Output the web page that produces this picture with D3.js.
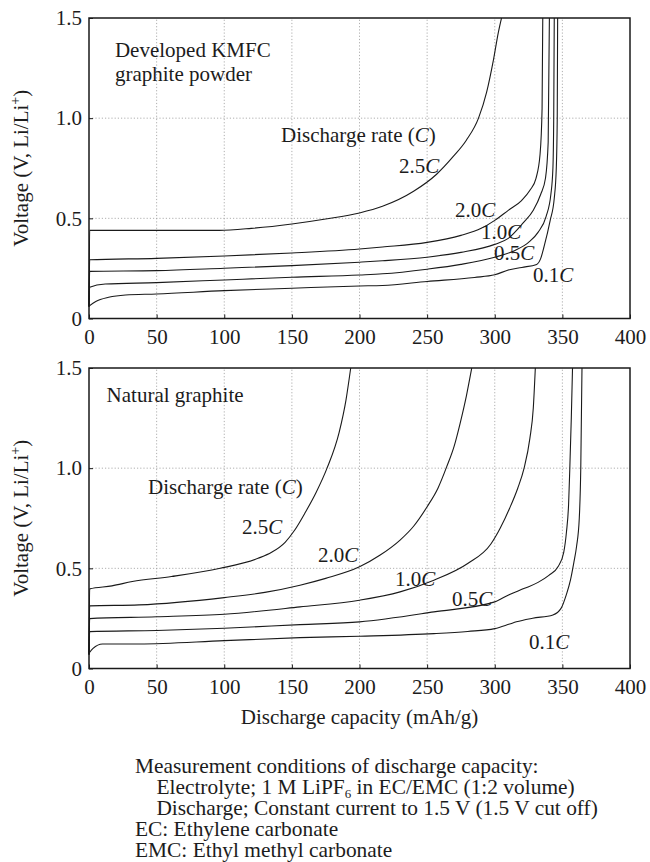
<!DOCTYPE html>
<html>
<head>
<meta charset="utf-8">
<title>Discharge curves</title>
<script src="https://d3js.org/d3.v7.min.js"></script>
<style>
    body { margin: 0; background: #fff; }
    text { font-family: "Liberation Serif", "Times New Roman", serif; fill: #1c1c1c; }
    .grid line { stroke: #9a9a9a; stroke-width: 0.8; stroke-dasharray: 1.2, 2; }
    .curve { fill: none; stroke: #1a1a1a; stroke-width: 1.1; }
    .frame { fill: none; stroke: #1a1a1a; stroke-width: 1.5; }
    .axis line { stroke: #1a1a1a; }
</style>
</head>
<body>
<script>
    // ---- data (capacity mAh/g, voltage V) ----
    var rates = ['2.5', '2.0', '1.0', '0.5', '0.1'];
    var xTicks = [0, 50, 100, 150, 200, 250, 300, 350, 400];
    var yTicks = [0, 0.5, 1.0, 1.5];
    var xGrid = [50, 100, 150, 200, 250, 300, 350];
    var yGrid = [0.5, 1.0];

    // Developed KMFC graphite powder
    var kmfc_25 = [[0,0.06],[0.5,0.44],[50,0.44],[96,0.44],[120,0.45],[150,0.472],[175,0.497],[200,0.527],[217,0.56],[240,0.635],[257,0.72],[269.5,0.81],[279,0.89],[288,1.0],[294,1.13],[299,1.29],[302.7,1.43],[305,1.5]];
    var kmfc_20 = [[0,0.06],[0.5,0.293],[50,0.30],[100,0.312],[150,0.327],[200,0.347],[217,0.357],[250,0.38],[275,0.415],[290,0.45],[300,0.49],[310,0.54],[320,0.59],[326,0.64],[330.5,0.70],[333.5,0.82],[335,1.05],[335.5,1.5]];
    var kmfc_10 = [[0,0.06],[0.5,0.235],[50,0.239],[100,0.251],[150,0.264],[200,0.281],[217,0.288],[250,0.306],[275,0.33],[300,0.37],[310,0.40],[321,0.477],[328.5,0.54],[334,0.62],[337.5,0.70],[339.5,0.88],[340.4,1.5]];
    var kmfc_05 = [[0,0.06],[0.5,0.156],[12,0.172],[50,0.179],[100,0.1925],[150,0.206],[200,0.2175],[217,0.223],[250,0.246],[275,0.27],[300,0.306],[315,0.34],[325,0.38],[332,0.43],[338,0.51],[341.5,0.62],[343,0.75],[343.6,1.0],[344,1.5]];
    var kmfc_01 = [[0,0.062],[5,0.085],[14.5,0.106],[27,0.1175],[50,0.1225],[100,0.139],[150,0.151],[200,0.1625],[217,0.165],[250,0.185],[285,0.205],[300,0.218],[310,0.242],[320,0.255],[331,0.27],[334,0.30],[336.5,0.36],[341,0.49],[344,0.60],[345.5,0.75],[346.2,1.0],[346.5,1.5]];

    // Natural graphite
    var nat_25 = [[0,0.07],[0.5,0.3975],[17,0.4125],[32,0.434],[61,0.459],[97,0.50],[125,0.55],[135,0.58],[145,0.63],[152,0.69],[160,0.78],[168,0.88],[176,1.0],[185,1.18],[190,1.34],[193.5,1.5]];
    var nat_20 = [[0,0.07],[0.5,0.3125],[37,0.3175],[100,0.354],[130,0.38],[156,0.416],[175,0.45],[200,0.5075],[215,0.565],[230,0.641],[240,0.71],[250,0.8075],[258,0.9],[264.5,1.0075],[270,1.11],[274.4,1.224],[279,1.36],[283,1.5]];
    var nat_10 = [[0,0.07],[0.5,0.249],[50,0.258],[100,0.271],[156,0.3075],[200,0.341],[230,0.3825],[255,0.441],[280,0.524],[297,0.62],[304,0.70],[311,0.80],[317,0.90],[321.7,1.0],[326,1.15],[328.5,1.3],[330,1.5]];
    var nat_05 = [[0,0.07],[0.5,0.184],[50,0.19],[100,0.2008],[156,0.219],[200,0.2325],[255,0.2825],[300,0.3325],[311,0.37],[322,0.40],[332,0.43],[340,0.465],[347,0.51],[351,0.58],[353,0.68],[354.6,0.82],[355.5,1.0],[356.6,1.25],[357.5,1.5]];
    var nat_01 = [[0,0.076],[3,0.10],[10,0.1225],[37,0.1225],[100,0.139],[156,0.154],[200,0.161],[255,0.174],[280,0.185],[300,0.199],[311,0.222],[316,0.233],[328,0.251],[343,0.2675],[349,0.30],[353,0.37],[356,0.4425],[358.5,0.53],[360.5,0.61],[362.5,0.75],[363.6,1.0],[364.5,1.5]];

    // label anchors in data units [capacity, voltage]
    var kmfcRateLabels = [[229.2,0.726],[270.6,0.507],[289.8,0.399],[299.4,0.2945],[328.3,0.18]];
    var natRateLabels = [[113.1,0.671],[169.3,0.534],[226.2,0.413],[268.4,0.313],[325.3,0.099]];

    var notes = [
        'Measurement conditions of discharge capacity:',
        '    Electrolyte; 1 M LiPF|6| in EC/EMC (1:2 volume)',
        '    Discharge; Constant current to 1.5 V (1.5 V cut off)',
        'EC: Ethylene carbonate',
        'EMC: Ethyl methyl carbonate'
    ];

    var W = 650, H = 862, fs = 21;

    var svg = d3.select('body').append('svg')
        .attr('width', W)
        .attr('height', H);

    var x = d3.scaleLinear().domain([0, 400]).range([89, 630]);

    var line = function (y) {
        return d3.line()
            .x(d => x(d[0]))
            .y(d => y(d[1]))
            .curve(d3.curveMonotoneX);
    };

    function panel(y0, y1, series, rateLabels, titleLines, titlePos, ratePos) {
        var y = d3.scaleLinear().domain([0, 1.5]).range([y0, y1]);
        var g = svg.append('g');

        // grid
        var grid = g.append('g').attr('class', 'grid');
        grid.selectAll('.gx').data(xGrid).enter().append('line')
            .attr('x1', d => x(d)).attr('x2', d => x(d))
            .attr('y1', y(0)).attr('y2', y(1.5));
        grid.selectAll('.gy').data(yGrid).enter().append('line')
            .attr('x1', x(0)).attr('x2', x(400))
            .attr('y1', d => y(d)).attr('y2', d => y(d));

        // axes
        var ax = g.append('g').attr('class', 'axis')
            .attr('transform', `translate(0,${y(0)})`)
            .call(d3.axisBottom(x).tickValues(xTicks).tickSize(-4).tickPadding(11).tickFormat(d3.format('d')));
        ax.select('.domain').remove();
        ax.selectAll('text').style('font-size', fs + 'px').attr('fill', '#1c1c1c');

        var ay = g.append('g').attr('class', 'axis')
            .attr('transform', `translate(${x(0)},0)`)
            .call(d3.axisLeft(y).tickValues(yTicks).tickSize(-4).tickPadding(7)
                .tickFormat(d => d === 0 ? '0' : d.toFixed(1)));
        ay.select('.domain').remove();
        ay.selectAll('text').style('font-size', fs + 'px').attr('fill', '#1c1c1c');

        // frame
        g.append('rect').attr('class', 'frame')
            .attr('x', x(0)).attr('y', y(1.5))
            .attr('width', x(400) - x(0)).attr('height', y(0) - y(1.5));

        // curves
        g.selectAll('.curve').data(series).enter().append('path')
            .attr('class', 'curve')
            .attr('d', d => line(y)(d));

        // y title
        var yt = g.append('text')
            .attr('transform', `translate(28,${(y0 + y1) / 2}) rotate(-90)`)
            .attr('text-anchor', 'middle')
            .style('font-size', fs + 'px');
        yt.append('tspan').text('Voltage (V, Li/Li');
        yt.append('tspan').text('+').attr('dy', -8).style('font-size', '14px');
        yt.append('tspan').text(')').attr('dy', 8);

        // panel title
        titleLines.forEach(function (t, i) {
            g.append('text')
                .attr('x', x(titlePos[0]))
                .attr('y', y(titlePos[1]) + i * 24)
                .style('font-size', fs + 'px')
                .text(t);
        });

        // "Discharge rate (C)"
        var dr = g.append('text')
            .attr('x', x(ratePos[0])).attr('y', y(ratePos[1]))
            .style('font-size', fs + 'px');
        dr.append('tspan').text('Discharge rate (');
        dr.append('tspan').text('C').style('font-style', 'italic');
        dr.append('tspan').text(')');

        // rate labels
        rateLabels.forEach(function (p, i) {
            var t = g.append('text')
                .attr('x', x(p[0])).attr('y', y(p[1]))
                .style('font-size', fs + 'px');
            t.append('tspan').text(rates[i]);
            t.append('tspan').text('C').style('font-style', 'italic');
        });
    }

    panel(318.5, 18, [kmfc_25, kmfc_20, kmfc_10, kmfc_05, kmfc_01], kmfcRateLabels,
        ['Developed KMFC', 'graphite powder'], [19.2, 1.305], [142, 0.881]);
    panel(668.5, 368, [nat_25, nat_20, nat_10, nat_05, nat_01], natRateLabels,
        ['Natural graphite'], [13, 1.33], [43.6, 0.871]);

    // x title
    svg.append('text')
        .attr('x', x(200)).attr('y', 724)
        .attr('text-anchor', 'middle')
        .style('font-size', fs + 'px')
        .text('Discharge capacity (mAh/g)');

    // notes
    notes.forEach(function (s, i) {
        var t = svg.append('text')
            .attr('x', 135).attr('y', 773 + i * 21)
            .style('font-size', '21.4px')
            .attr('xml:space', 'preserve')
            .style('white-space', 'pre');
        var parts = s.split('|');
        t.append('tspan').text(parts[0]);
        if (parts.length > 1) {
            t.append('tspan').text(parts[1]).attr('dy', 4).style('font-size', '13px');
            t.append('tspan').text(parts[2]).attr('dy', -4);
        }
    });
</script>
</body>
</html>
